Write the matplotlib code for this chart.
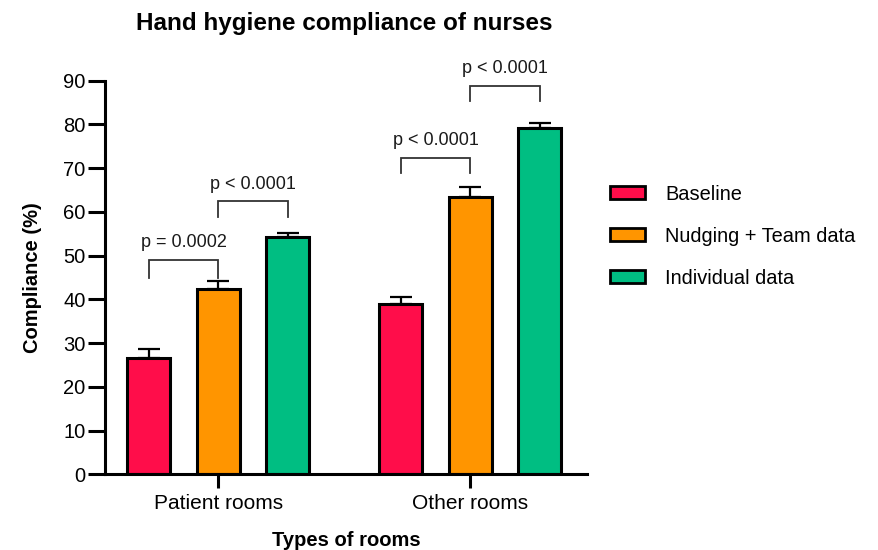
import matplotlib
matplotlib.use("Agg")
import matplotlib.pyplot as plt
import numpy as np
from matplotlib.patches import Patch

plt.rcParams['font.family'] = ['Liberation Sans', 'DejaVu Sans']

# ---- data ----
categories = ["Patient rooms", "Other rooms"]
series_names = ["Baseline", "Nudging + Team data", "Individual data"]
baseline = [26.7, 38.9]
baseline_err = [1.9, 1.6]
nudging = [42.3, 63.3]
nudging_err = [1.9, 2.4]
individual = [54.3, 79.1]
individual_err = [0.9, 1.3]
colors = ["#FF0D4A", "#FF9500", "#00BE82"]

# significance brackets: (group, series_from, series_to), top y, leg bottom y, label
bracket_pairs = [(0, 0, 1), (0, 1, 2), (1, 0, 1), (1, 1, 2)]
bracket_tops = [49.1, 62.5, 72.4, 88.9]
bracket_legs = [44.9, 58.9, 68.8, 85.3]
p_labels = ["p = 0.0002", "p < 0.0001", "p < 0.0001", "p < 0.0001"]

yticks = list(range(0, 91, 10))

# ---- figure ----
fig = plt.figure(figsize=(8.79, 5.5), dpi=100)
ax = fig.add_axes([105/879, 1-474.3/550, (587-105)/879, (474.3-80.7)/550])

x = np.arange(len(categories))
offset = 69.5/252
width = 43/252
values = [baseline, nudging, individual]
errs = [baseline_err, nudging_err, individual_err]

for i, (vals, er, col) in enumerate(zip(values, errs, colors)):
    xpos = x + (i-1)*offset
    ax.errorbar(xpos, vals, yerr=[np.zeros(len(vals)), er], fmt='none',
                ecolor='black', elinewidth=1.6, capsize=8, capthick=1.6, zorder=1)
    ax.bar(xpos, vals, width=width, color=col, edgecolor='black', linewidth=2.2, zorder=2)

for (g, a, b), top, leg, lab in zip(bracket_pairs, bracket_tops, bracket_legs, p_labels):
    x1 = x[g] + (a-1)*offset
    x2 = x[g] + (b-1)*offset
    ax.plot([x1, x1, x2, x2], [leg, top, top, leg], color='#333333', lw=1.3,
            solid_joinstyle='miter', zorder=3, clip_on=False)
    ax.annotate(lab, xy=((x1+x2)/2, top), xytext=(0, 6), textcoords='offset points',
                ha='center', va='bottom', fontsize=13, color='#1a1a1a')

ax.set_xlim((105-218.5)/252, (587-218.5)/252)
ax.set_ylim(0, 90)
ax.set_yticks(yticks)
ax.set_xticks(x)
ax.set_xticklabels(categories)

for s in ['top', 'right']:
    ax.spines[s].set_visible(False)
for s in ['left', 'bottom']:
    ax.spines[s].set_linewidth(2.2)

ax.tick_params(axis='y', length=12, width=2.2, labelsize=14.5, pad=2)
ax.tick_params(axis='x', length=10, width=2.2, labelsize=15, pad=4)

fig.text(344/879, 1-30/550, "Hand hygiene compliance of nurses", ha='center',
         va='baseline', fontsize=17.5, fontweight='bold')
fig.text(33/879, 1-278/550, "Compliance (%)", rotation=90, ha='center', va='center',
         fontsize=14.5, fontweight='bold')
fig.text(346/879, 1-546/550, "Types of rooms", ha='center', va='baseline',
         fontsize=14.5, fontweight='bold')

handles = [Patch(facecolor=c, edgecolor='black', linewidth=2.0) for c in colors]
fig.legend(handles, series_names, loc='center left', bbox_to_anchor=(610/879, 1-236/550),
           frameon=False, fontsize=14.4, handlelength=1.75, handleheight=0.65,
           handletextpad=1.0, labelspacing=1.15, borderpad=0, borderaxespad=0)

fig.savefig("out.png", dpi=100)
